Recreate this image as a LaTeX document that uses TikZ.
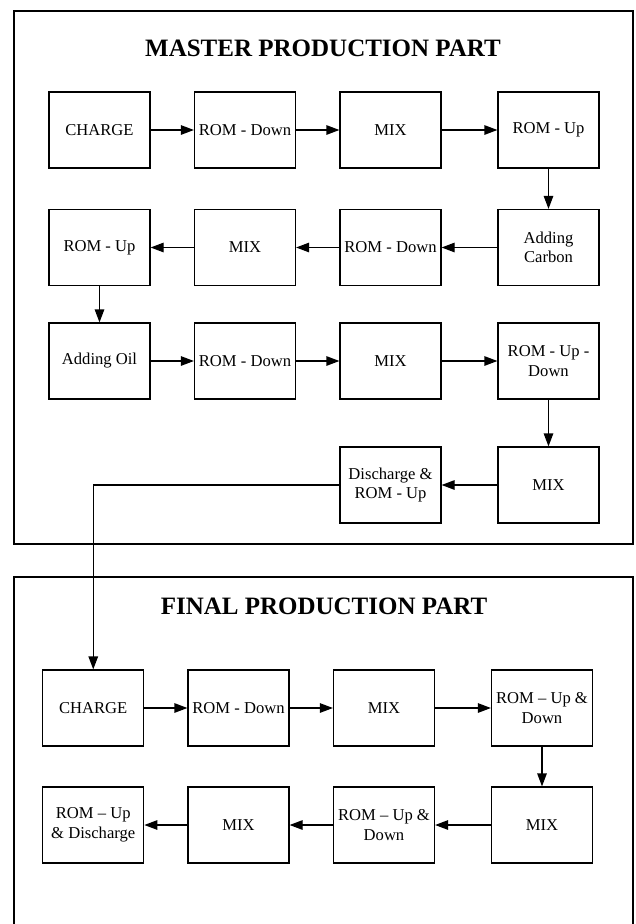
\documentclass[tikz,border=0pt]{standalone}
\usepackage{fontspec}
\setmainfont{Liberation Serif}
\usetikzlibrary{arrows.meta}

\begin{document}
\begin{tikzpicture}[x=1pt, y=-1pt,
    box/.style={draw, line width=1.2pt, minimum width=101pt, minimum height=76pt, inner sep=0pt, align=center, font=\fontsize{16.6}{19.5}\selectfont},
    flow/.style={-{Triangle[length=13pt,width=9.5pt]}, line width=1.2pt},
    frame/.style={line width=2.8pt},
    heading/.style={font=\fontsize{25}{30}\selectfont\bfseries}]
                    \useasboundingbox (0,0) rectangle (635,924);
                    % master part
                    \draw[frame] (14,11) rectangle (633,544);
                    \node[heading] (T1) at (323,48) {MASTER PRODUCTION PART};
                    \node[box] (M1) at (99.5,130) {CHARGE};
                    \node[box] (M2) at (245,130) {ROM - Down};
                    \draw[flow] (M1) -- (M2);
                    \node[box] (M3) at (390.5,130) {MIX};
                    \draw[flow] (M2) -- (M3);
                    \node[box] (M4) at (548.5,130) {ROM - Up};
                    \draw[flow] (M3) -- (M4);
                    \node[box] (M5) at (548.5,247.5) {Adding\\Carbon};
                    \draw[flow] (M4) -- (M5);
                    \node[box] (M6) at (390.5,247.5) {ROM - Down};
                    \draw[flow] (M5) -- (M6);
                    \node[box] (M7) at (245,247.5) {MIX};
                    \draw[flow] (M6) -- (M7);
                    \node[box] (M8) at (99.5,247.5) {ROM - Up};
                    \draw[flow] (M7) -- (M8);
                    \node[box] (M9) at (99.5,361) {Adding Oil};
                    \draw[flow] (M8) -- (M9);
                    \node[box] (M10) at (245,361) {ROM - Down};
                    \draw[flow] (M9) -- (M10);
                    \node[box] (M11) at (390.5,361) {MIX};
                    \draw[flow] (M10) -- (M11);
                    \node[box] (M12) at (548.5,361) {ROM - Up -\\Down};
                    \draw[flow] (M11) -- (M12);
                    \node[box] (M13) at (548.5,485) {MIX};
                    \draw[flow] (M12) -- (M13);
                    \node[box] (M14) at (390.5,485) {Discharge \&\\ROM - Up};
                    \draw[flow] (M13) -- (M14);

                    % final part
                    \draw[frame] (14,930) -- (14,577) -- (633,577) -- (633,930);
                    \node[heading] (T2) at (324,606.5) {FINAL PRODUCTION PART};
                    \node[box] (F1) at (93.25,708) {CHARGE};
                    \draw[flow] (M14.west) -| (F1.north);
                    \node[box] (F2) at (238.5,708) {ROM - Down};
                    \draw[flow] (F1) -- (F2);
                    \node[box] (F3) at (384,708) {MIX};
                    \draw[flow] (F2) -- (F3);
                    \node[box] (F4) at (542,708) {ROM -- Up \&\\Down};
                    \draw[flow] (F3) -- (F4);
                    \node[box] (F5) at (542,825) {MIX};
                    \draw[flow] (F4) -- (F5);
                    \node[box] (F6) at (384,825) {ROM -- Up \&\\Down};
                    \draw[flow] (F5) -- (F6);
                    \node[box] (F7) at (238.5,825) {MIX};
                    \draw[flow] (F6) -- (F7);
                    \node[box] (F8) at (93.25,825) {ROM -- Up\\\& Discharge};
                    \draw[flow] (F7) -- (F8);
                \end{tikzpicture}
\end{document}
